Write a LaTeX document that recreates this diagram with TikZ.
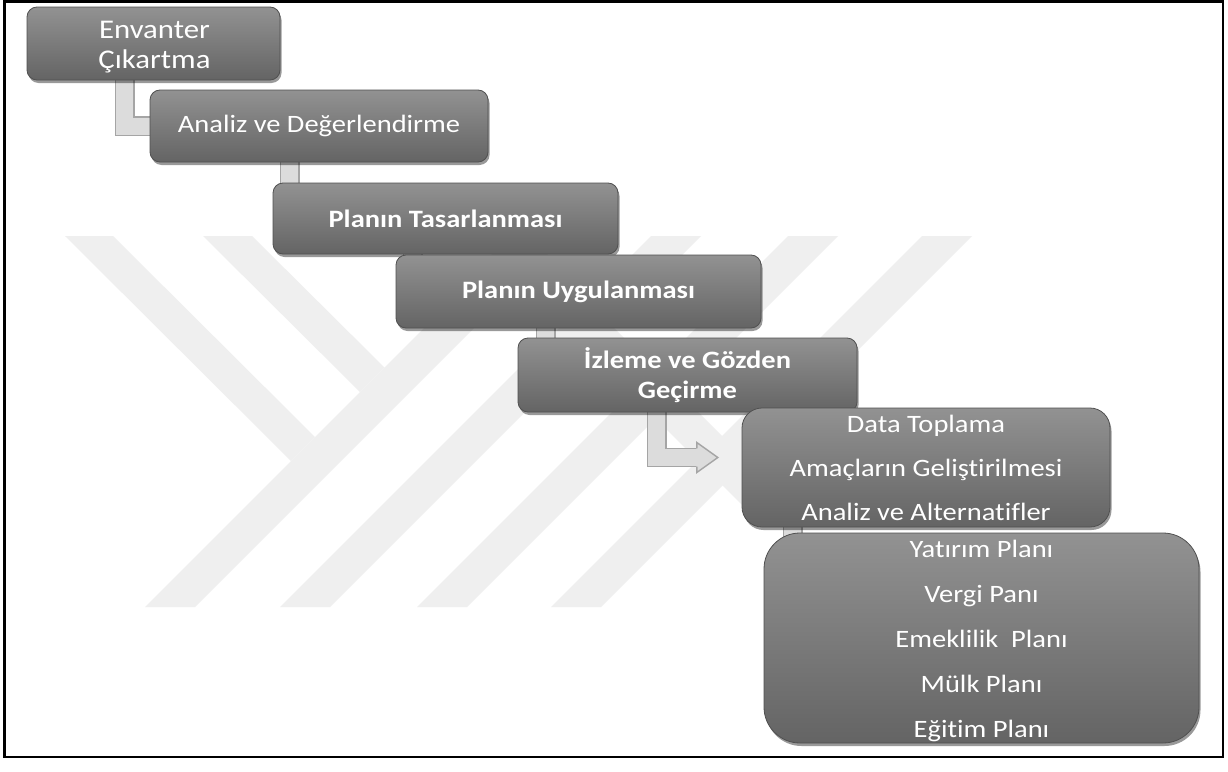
\documentclass[tikz,border=0pt]{standalone}
\usepackage{fontspec}
\setmainfont{Carlito}[Ligatures=NoCommon, FakeStretch=1.14]
\usetikzlibrary{shadows,calc}

\definecolor{wmgray}{RGB}{239,239,239}
\definecolor{boxtop}{RGB}{146,146,146}
\definecolor{boxmid}{RGB}{122,122,122}
\definecolor{boxbot}{RGB}{100,100,100}
\definecolor{boxedge}{RGB}{80,80,80}
\definecolor{connfill}{RGB}{220,220,220}
\definecolor{connedge}{RGB}{165,165,165}

\tikzset{
  slot/.style={rectangle, draw=none, fill=none, inner sep=0},
  stepbox/.style={
    rounded corners=10, draw=boxedge, line width=0.8,
    top color=boxtop, middle color=boxmid, bottom color=boxbot,
    inner sep=0,
    drop shadow={shadow xshift=1.5pt, shadow yshift=-3pt, opacity=0.4, fill=black}
  },
  steptext/.style={text=white, inner sep=0, align=center,
    font=\fontsize{25}{30}\selectfont},
  boldtext/.style={steptext, font=\fontsize{25}{30}\selectfont\bfseries},
  listtext/.style={steptext, font=\fontsize{25}{44}\selectfont},
  elbow/.style={draw=connedge, double=connfill, double distance=17pt,
    line width=1.4pt, line join=miter},
  band/.style={fill=wmgray, draw=none}
}

\begin{document}
\begin{tikzpicture}[x=1pt, y=-1pt]
\useasboundingbox (0,0) rectangle (1228,771);
\fill[white] (0,0) rectangle (1228,771);

% background emblem: strokes coming down from the upper left ...
\path[band] (65,236) -- (113,236) -- (315,437) -- (291,461) -- cycle;
\path[band] (203,236) -- (252,236) -- (384.5,367.5) -- (360,392) -- cycle;
\path[band] (473,236) -- (522,236) -- (783,497) -- (758.5,521.5) -- cycle;
% ... and the long parallel strokes rising to the right
\path[band] (145,607) -- (195,607) -- (566,236) -- (516,236) -- cycle;
\path[band] (280,607) -- (330,607) -- (701,236) -- (651,236) -- cycle;
\path[band] (417,607) -- (467,607) -- (838,236) -- (788,236) -- cycle;
\path[band] (551,607) -- (601,607) -- (972,236) -- (922,236) -- cycle;

% footprints of the steps, so the connectors can refer to them
\path
  (153.5,43.5)  node[slot, minimum width=253, minimum height=73] (b1) {}
  (319,126)     node[slot, minimum width=338, minimum height=72] (b2) {}
  (445.5,218.5) node[slot, minimum width=345, minimum height=71] (b3) {}
  (578.5,291.5) node[slot, minimum width=365, minimum height=73] (b4) {}
  (687.5,375)   node[slot, minimum width=339, minimum height=74] (b5) {}
  (926,467.5)   node[slot, minimum width=368, minimum height=119] (b6) {}
  (981.5,638)   node[slot, minimum width=435, minimum height=210] (b7) {};

% bent connectors between consecutive steps
\coordinate (k1) at ($(b1.south west)+(98,-4)$);
\coordinate (k2) at ($(b2.south west)+(140,-4)$);
\coordinate (k3) at ($(b3.south west)+(140,-4)$);
\coordinate (k4) at ($(b4.south west)+(150,-4)$);
\coordinate (k5) at ($(b5.south west)+(139,-4)$);
\coordinate (k6) at ($(b6.south west)+(51,-4)$);
\coordinate (k5e) at ($(b6.west)+(-45,-10)$);

\draw[elbow] (k1) |- ($(b2.west)+(6,0)$);
\draw[elbow] (k2) |- ($(b3.west)+(30,0)$);
\draw[elbow] (k3) |- ($(b4.west)+(30,0)$);
\draw[elbow] (k4) |- ($(b5.west)+(40,0)$);
\draw[elbow] (k5) |- (k5e);
\fill[connfill] ($(k5e)+(-0.5,-15)$) -- ($(k5e)+(21,0)$) -- ($(k5e)+(-0.5,15)$) -- cycle;
\draw[connedge, line width=1.4pt, line join=miter]
  ($(k5e)+(0,-9.2)$) -- ($(k5e)+(0,-15)$) -- ($(k5e)+(21,0)$) -- ($(k5e)+(0,15)$) -- ($(k5e)+(0,9.2)$);
\draw[elbow] (k6) |- ($(b7.west)+(40,0)$);

% the step boxes
\node[stepbox, minimum width=253, minimum height=73] (t1) at (b1) {};
\node[stepbox, minimum width=338, minimum height=72] (t2) at (b2) {};
\node[stepbox, minimum width=345, minimum height=71] (t3) at (b3) {};
\node[stepbox, minimum width=365, minimum height=73] (t4) at (b4) {};
\node[stepbox, minimum width=339, minimum height=74] (t5) at (b5) {};
\node[stepbox, rounded corners=20, minimum width=368, minimum height=119] (t6) at (b6) {};
\node[stepbox, rounded corners=36, minimum width=435, minimum height=210] (t7) at (b7) {};

% their texts
\node[steptext, font=\fontsize{27}{30}\selectfont] (l1) at ($(t1)+(1,3.5)$) {Envanter\\Çıkartma};
\node[steptext] (l2) at (t2) {Analiz ve Değerlendirme};
\node[boldtext] (l3) at (t3) {Planın Tasarlanması};
\node[boldtext] (l4) at (t4) {Planın Uygulanması};
\node[boldtext] (l5) at (t5) {İzleme ve Gözden\\Geçirme};
\node[listtext] (l6) at (t6) {Data Toplama\\Amaçların Geliştirilmesi\\Analiz ve Alternatifler};
\node[listtext, font=\fontsize{25}{45}\selectfont] (l7) at ($(t7)+(0,3)$)
  {Yatırım Planı\\Vergi Panı\\Emeklilik~ Planı\\Mülk Planı\\Eğitim Planı};

% frame
\draw[line width=2.5] (4.5,1.5) rectangle (1223,757);
\end{tikzpicture}
\end{document}
